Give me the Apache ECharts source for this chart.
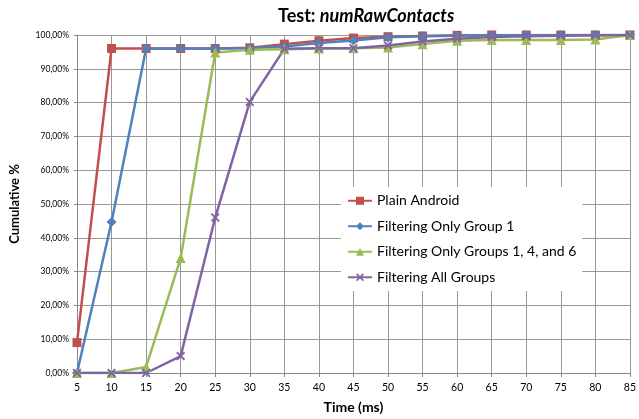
<!DOCTYPE html>
<html><head><meta charset="utf-8">
<script src="https://cdn.jsdelivr.net/npm/echarts@6/dist/echarts.min.js"></script>
<style>html,body{margin:0;padding:0;background:#fff}#c{width:639px;height:419px}</style>
</head><body><div id="c"></div>
<script>
const times = ['5','10','15','20','25','30','35','40','45','50','55','60','65','70','75','80','85'];
const plainAndroid = [9, 96, 96, 96, 96, 96.2, 97.3, 98.3, 99.1, 99.5, 99.7, 99.9, 100, 100, 100, 100, 100];
const filterGroup1 = [0, 44.7, 96, 96, 96, 96.1, 96.6, 97.6, 98.4, 99.3, 99.6, 99.8, 99.9, 99.9, 100, 100, 100];
const filterGroups146 = [0, 0, 1.8, 34, 94.8, 95.6, 95.8, 96, 96.1, 96.3, 97.3, 98.3, 98.5, 98.5, 98.5, 98.7, 100];
const filterAll = [0, 0, 0, 5, 46, 80.2, 95.9, 96.1, 96.1, 96.9, 98.1, 98.9, 99.4, 99.6, 99.8, 99.9, 100];
const seriesNames = ['Plain Android', 'Filtering Only Group 1', 'Filtering Only Groups 1, 4, and 6', 'Filtering All Groups'];

const FONT = 'Lato';
const crossPath = 'path://M0,1.5L1.5,0L5,3.5L8.5,0L10,1.5L6.5,5L10,8.5L8.5,10L5,6.5L1.5,10L0,8.5L3.5,5Z';
const chart = echarts.init(document.getElementById('c'), null, {renderer: 'canvas'});
function mk(name, data, color, symbol, size) {
  return {
    name, type: 'line', data, symbol, symbolSize: size,
    lineStyle: {color, width: 2.5}, itemStyle: {color},
    animation: false
  };
}
chart.setOption({
  animation: false,
  textStyle: {fontFamily: FONT},
  title: {
    text: '{a|Test: }{b|numRawContacts}',
    left: 273, top: 2,
    textStyle: {
      rich: {
        a: {fontFamily: FONT, fontWeight: 'bold', fontSize: 18, color: '#000'},
        b: {fontFamily: FONT, fontWeight: 'bold', fontStyle: 'italic', fontSize: 18, color: '#000'}
      }
    }
  },
  grid: {left: 74, right: 7, top: 35, bottom: 45},
  legend: {
    orient: 'vertical', left: 341, top: 187,
    backgroundColor: '#fff', padding: [5, 6, 5, 6],
    itemGap: 8, itemWidth: 24, itemHeight: 10,
    textStyle: {fontFamily: FONT, fontSize: 14, lineHeight: 17.5, color: '#000'},
    data: seriesNames
  },
  xAxis: {
    type: 'category', data: times, boundaryGap: false,
    name: 'Time (ms)', nameLocation: 'middle', nameGap: 27,
    nameTextStyle: {fontFamily: FONT, fontWeight: 'bold', fontSize: 14, color: '#000'},
    axisLine: {lineStyle: {color: '#888'}},
    axisTick: {show: true, length: 4, lineStyle: {color: '#888'}},
    axisLabel: {fontFamily: FONT, fontSize: 10.5, color: '#000', margin: 9},
    splitLine: {show: true, lineStyle: {color: '#999', width: 1}}
  },
  yAxis: {
    type: 'value', min: 0, max: 100, interval: 10,
    name: 'Cumulative %', nameLocation: 'middle', nameGap: 56,
    nameTextStyle: {fontFamily: FONT, fontWeight: 'bold', fontSize: 13, color: '#000'},
    axisLine: {show: true, lineStyle: {color: '#888'}},
    axisTick: {show: true, length: 3, lineStyle: {color: '#888'}},
    axisLabel: {fontFamily: FONT, fontSize: 8.5, color: '#000', margin: 8,
      formatter: v => v.toFixed(2).replace('.', ',') + '%'},
    splitLine: {show: true, lineStyle: {color: '#999', width: 1}}
  },
  series: [
    mk(seriesNames[0], plainAndroid, '#C0504D', 'rect', 9),
    mk(seriesNames[1], filterGroup1, '#4F81BD', 'diamond', 10),
    mk(seriesNames[2], filterGroups146, '#9BBB59', 'triangle', 10),
    mk(seriesNames[3], filterAll, '#8064A2', crossPath, 9)
  ]
});
</script></body></html>
